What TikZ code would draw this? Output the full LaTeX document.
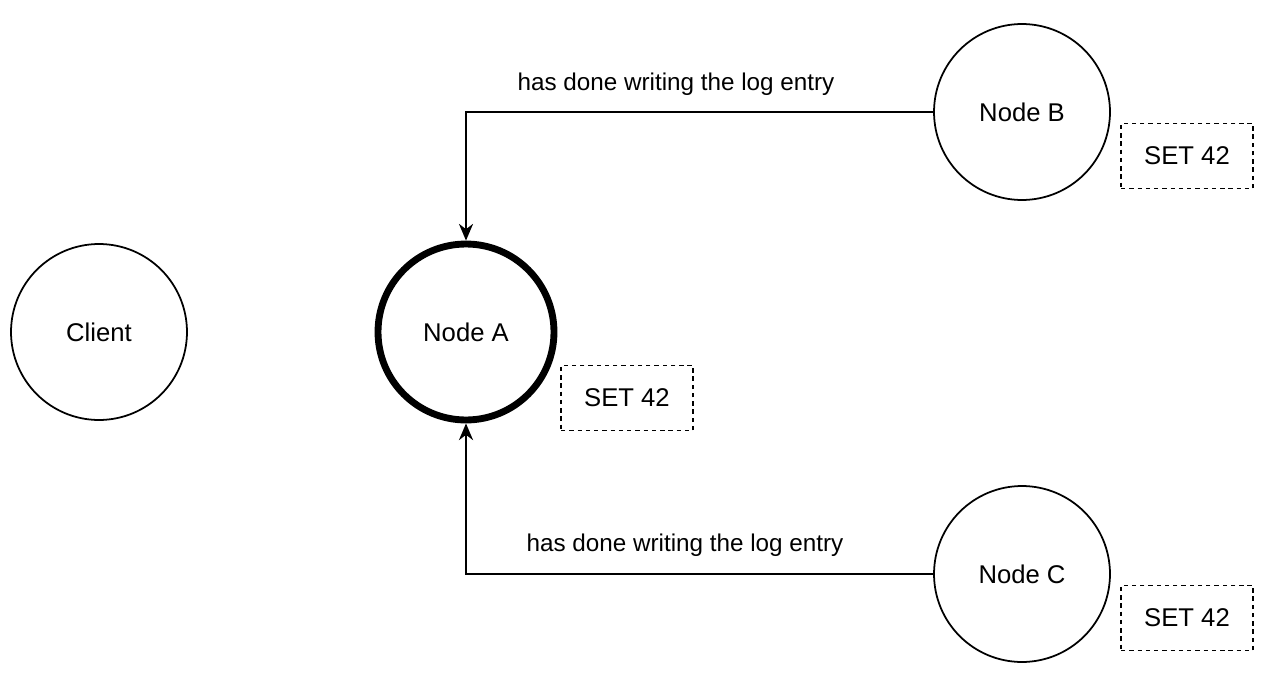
\documentclass[tikz,border=0pt]{standalone}
\usepackage{fontspec}
\setmainfont{Liberation Sans}
\usetikzlibrary{arrows.meta}
\begin{document}
\begin{tikzpicture}[>={Stealth[length=9.5pt,width=8pt,inset=3pt]}, x=0.02cm, y=-0.02cm,
		peer/.style={circle, draw, line width=1pt, minimum size=3.52cm, inner sep=0pt, font=\fontsize{14.6}{17}\selectfont},
		leader/.style={peer, line width=3.9pt},
		logbox/.style={draw, dashed, dash pattern=on 2.5pt off 2.2pt, line width=1pt, minimum width=2.64cm, minimum height=1.3cm, font=\fontsize{14.6}{17}\selectfont},
		lbl/.style={font=\fontsize{13.8}{16}\selectfont, inner sep=0pt}]
		\useasboundingbox (0,0) rectangle (1278,686);
		\node[peer] (client) at (99,332) {Client};
		\node[leader] (nodeA) at (466,332) {Node A};
		\node[peer] (nodeB) at (1022,112) {Node B};
		\node[peer] (nodeC) at (1022,574) {Node C};
		\node[logbox] (logA) at (627,398) {SET 42};
		\node[logbox] (logB) at (1187,156) {SET 42};
		\node[logbox] (logC) at (1187,618) {SET 42};
		\node[lbl] (ackB) at (676,84) {has done writing the log entry};
		\node[lbl] (ackC) at (685,545) {has done writing the log entry};
		\draw[->, line width=1.1pt] (nodeB.west) -| (nodeA.north);
		\draw[->, line width=1.1pt] (nodeC.west) -| (nodeA.south);
		\end{tikzpicture}
\end{document}
